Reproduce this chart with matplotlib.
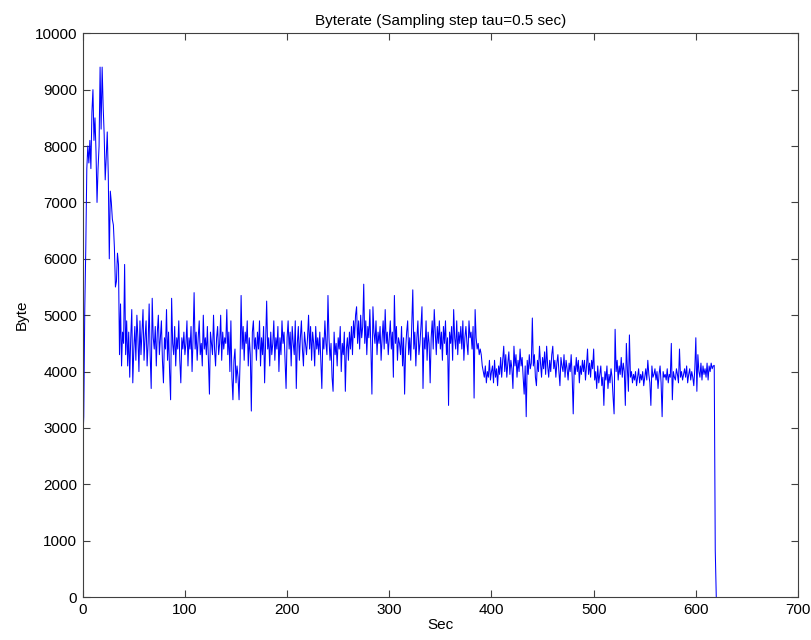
import matplotlib
matplotlib.use("Agg")
import matplotlib.pyplot as plt
import numpy as np

plt.rcParams["font.family"] = ["Liberation Sans", "DejaVu Sans"]

# byterate samples at 1 s spacing
ramp_up = [  # 0-39 s
    2700, 3200, 5100, 6200, 7600, 8000, 7700, 8100, 7600, 8600,
    9000, 8100, 8500, 7900, 7000, 7600, 8000, 9400, 8300, 9400,
    8700, 8200, 7400, 7800, 8250, 7500, 6000, 7200, 7000, 6700,
    6600, 6200, 5500, 5600, 6100, 5900, 4300, 5200, 4100, 4700,
]
plateau_a = [  # 40-139 s
    4500, 5900, 4300, 4900, 4100, 4700, 3900, 4600, 5100, 3800,
    4400, 4800, 4200, 5000, 4600, 4000, 4900, 4300, 4700, 5100,
    4200, 4600, 4900, 4100, 4500, 5200, 4300, 3700, 5300, 4600,
    4400, 4800, 4100, 4700, 5000, 4300, 4600, 4900, 4200, 3800,
    4600, 4400, 5100, 4200, 4700, 4000, 3500, 5300, 4500, 4300,
    4800, 4100, 4600, 4400, 4900, 4200, 3800, 4600, 4400, 4700,
    4300, 4500, 4900, 4100, 4600, 4400, 4800, 4000, 4600, 5400,
    4400, 4700, 4200, 4600, 4900, 4300, 4500, 4100, 5000, 4400,
    4600, 4300, 4800, 4200, 3600, 4700, 4500, 4300, 5000, 4400,
    4100, 4600, 4800, 4300, 4500, 5000, 4200, 4700, 4400, 4600,
]
plateau_b = [  # 140-239 s
    4500, 5100, 4300, 4700, 4000, 4900, 3900, 3500, 4200, 4400,
    3800, 4100, 3900, 3500, 4200, 5350, 4400, 4800, 4200, 4700,
    4500, 4900, 4100, 4600, 4300, 3300, 4700, 4900, 4400, 4600,
    4200, 4700, 4400, 4900, 4100, 4600, 4300, 4800, 3800, 4500,
    5250, 4400, 4600, 4100, 4700, 4300, 4500, 4900, 4200, 4600,
    4400, 4800, 4000, 4600, 4300, 4900, 4500, 4700, 4200, 3700,
    4600, 4900, 4400, 4700, 4100, 4800, 4500, 4300, 4900, 3700,
    4500, 4800, 4200, 4600, 4900, 4400, 4100, 4700, 4500, 4300,
    4600, 5000, 4400, 4800, 4200, 4700, 4500, 4100, 4800, 4400,
    4600, 4300, 4700, 4200, 3700, 4600, 4400, 4900, 4500, 4300,
]
plateau_c = [  # 240-339 s
    5350, 4600, 4200, 4500, 3900, 3650, 4700, 4300, 4500, 4100,
    4600, 4400, 4800, 4000, 4500, 4300, 4700, 3650, 4400, 4600,
    4200, 4700, 4400, 4800, 4300, 4900, 4600, 5000, 5150, 4500,
    4900, 4400, 5000, 4600, 4800, 5550, 4500, 4900, 4300, 4800,
    4600, 5100, 4400, 3600, 5150, 4700, 4500, 4900, 4300, 4700,
    4500, 4800, 4200, 4600, 4900, 4400, 5100, 4500, 4700, 4300,
    4600, 4900, 4400, 4700, 3900, 5350, 4500, 4800, 4200, 4600,
    4500, 4300, 4800, 4100, 4600, 3600, 4400, 4700, 4900, 4300,
    4600, 4200, 4800, 5450, 4400, 4700, 4100, 4600, 4900, 4300,
    4500, 4800, 5150, 3700, 4600, 4400, 4900, 4200, 4700, 4500,
]
plateau_d = [  # 340-389 s
    3800, 4600, 4900, 4400, 5100, 4700, 4300, 4800, 4500, 4900,
    4400, 4700, 4200, 4800, 4500, 4900, 4300, 4600, 3400, 4700,
    4500, 4800, 4200, 5100, 4600, 4400, 4900, 4300, 4700, 4500,
    4800, 4400, 4900, 4200, 4600, 4800, 4500, 4300, 4900, 4600,
    4700, 4400, 4800, 3530, 5100, 4600, 4400, 4500, 4300, 4400,
]
lower_a = [  # 390-489 s
    4300, 4100, 4000, 3900, 4100, 3800, 4000, 3900, 4200, 3850,
    4000, 4100, 3800, 4200, 3900, 4050, 3750, 4100, 3950, 4250,
    3900, 4200, 4450, 4000, 4300, 3900, 4150, 4350, 3950, 4200,
    4050, 3700, 4450, 4100, 4300, 3900, 4200, 4000, 4400, 4100,
    4250, 3900, 3600, 4100, 3200, 4200, 3950, 4300, 4050, 4150,
    4950, 4100, 4300, 3900, 3750, 4200, 4000, 4450, 4150, 3900,
    4250, 4050, 4350, 3950, 4450, 4100, 3900, 4200, 4000, 4300,
    4450, 4050, 4200, 3900, 4150, 4300, 4000, 3750, 4250, 4100,
    4000, 4300, 3900, 4200, 4050, 3850, 4150, 4000, 4300, 3900,
    3250, 4100, 3950, 4250, 4000, 4200, 3800, 4100, 3950, 4200,
]
lower_b = [  # 490-589 s
    4000, 4200, 3850, 4100, 4400, 3950, 4150, 3900, 4200, 4050,
    4400, 3850, 4000, 3700, 4100, 3800, 3950, 4100, 3750, 3900,
    3400, 4000, 3850, 4100, 3700, 3950, 3800, 4050, 3900, 3550,
    3250, 4750, 4000, 4200, 3850, 4100, 3950, 4250, 3900, 4150,
    4000, 3400, 4500, 4050, 3650, 4650, 3900, 4000, 3800, 3950,
    3850, 4000, 3750, 3900, 4050, 3800, 3950, 3850, 4000, 3750,
    3900, 4050, 3850, 4200, 3950, 3800, 3400, 4100, 3900, 3950,
    4050, 3850, 4000, 3700, 3950, 4100, 3800, 3200, 4000, 3900,
    3950, 3850, 4050, 3800, 3950, 3900, 4500, 3500, 4000, 3900,
    3850, 4050, 3950, 3800, 4400, 3900, 4000, 3850, 3950, 4050,
]
lower_c = [  # 590-620 s, transfer ends
    3900, 4100, 3800, 3950, 4050, 3850, 4000, 3900, 3750, 4050,
    4600, 3650, 4300, 4000, 3900, 4150, 3850, 4100, 3950, 4050,
    3900, 4150, 3850, 4100, 4000, 4150, 4050, 4100, 4110, 830, 0,
]

byterate = np.array(ramp_up + plateau_a + plateau_b + plateau_c
                    + plateau_d + lower_a + lower_b + lower_c, dtype=float)
sec = np.arange(len(byterate)) * 1.0

fig = plt.figure(figsize=(8.11, 6.40), dpi=100)
ax = fig.add_axes([0.102, 0.067, 0.882, 0.881])
ax.plot(sec, byterate, color="#0000ff", lw=0.75)

ax.set_xlim(0, 700)
ax.set_ylim(0, 10000)
ax.set_xticks(np.arange(0, 701, 100))
ax.set_yticks(np.arange(0, 10001, 1000))
ax.tick_params(direction="in", top=True, right=True, length=5,
               labelsize=11, color="#404040", pad=4)
for s in ax.spines.values():
    s.set_color("#404040")
    s.set_linewidth(0.8)

ax.set_title("Byterate (Sampling step tau=0.5 sec)", fontsize=11, pad=6)
ax.set_xlabel("Sec", fontsize=11, labelpad=1)
ax.set_ylabel("Byte", fontsize=11, labelpad=4)

fig.savefig("out.png", dpi=100)
